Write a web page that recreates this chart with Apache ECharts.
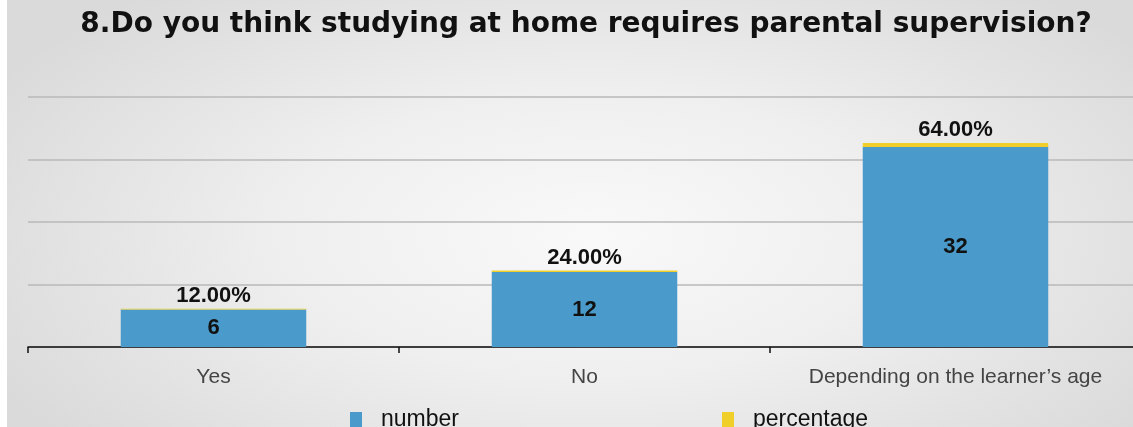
<!DOCTYPE html>
<html>
<head>
<meta charset="utf-8">
<script src="https://cdn.jsdelivr.net/npm/echarts@6/dist/echarts.min.js"></script>
<style>
  html, body { margin: 0; padding: 0; width: 1133px; height: 427px; overflow: hidden; background: #ffffff; }
  #wrap {
    position: absolute; left: 7px; top: 0; width: 1126px; height: 427px;
    background: radial-gradient(ellipse 60% 75% at 52% 55%, #f9f9f9 0%, #efefef 45%, #dadada 100%);
  }
  #chart { position: absolute; left: 0; top: 0; width: 1133px; height: 427px; }
</style>
</head>
<body>
<div id="wrap"></div>
<div id="chart"></div>
<script>
// Survey answers
const categories = ['Yes', 'No', 'Depending on the learner\u2019s age'];
const numberValues = [6, 12, 32];
const percentageValues = [0.12, 0.24, 0.64];
const titleText = '8.Do you think studying at home requires parental supervision?';

const chart = echarts.init(document.getElementById('chart'), null, { renderer: 'canvas' });

const labelFont = { fontFamily: 'Liberation Sans, Arial, sans-serif', fontWeight: 'bold', fontSize: 22, color: '#111' };
const legendText = { fontFamily: 'Liberation Sans, Arial, sans-serif', fontSize: 23, color: '#111', padding: [0, 0, 0, 14] };

chart.setOption({
  backgroundColor: 'transparent',
  animation: false,
  title: {
    text: titleText,
    left: 581, top: 6, textAlign: 'center',
    textStyle: { fontFamily: 'DejaVu Sans, Verdana, sans-serif', fontWeight: 'bold', fontSize: 28, color: '#111' }
  },
  legend: [
    { data: ['number'], left: 350, top: 408, padding: 0, icon: 'rect', itemWidth: 12, itemHeight: 15, textStyle: legendText },
    { data: ['percentage'], left: 722, top: 408, padding: 0, icon: 'rect', itemWidth: 12, itemHeight: 15, textStyle: legendText }
  ],
  grid: { left: 28, top: 97, width: 1113, bottom: 80, containLabel: false, outerBoundsMode: 'none' },
  xAxis: {
    type: 'category',
    data: categories,
    axisLine: { lineStyle: { color: '#111', width: 1.5 } },
    axisTick: { show: true, interval: 0, length: 6, lineStyle: { color: '#111', width: 1.5 } },
    axisLabel: { interval: 0, hideOverlap: false, fontFamily: 'Liberation Sans, Arial, sans-serif', fontSize: 21, color: '#444', margin: 20 }
  },
  yAxis: {
    type: 'value', min: 0, max: 40, interval: 10,
    axisLine: { show: false }, axisTick: { show: false }, axisLabel: { show: false },
    splitLine: { lineStyle: { color: '#b9b9b9', width: 1.5 } }
  },
  series: [
    {
      name: 'number', type: 'bar', stack: 'total', data: numberValues, barWidth: '50%',
      itemStyle: { color: '#4a9bcb' },
      label: { show: true, position: 'inside', ...labelFont }
    },
    {
      name: 'percentage', type: 'bar', stack: 'total', data: percentageValues, barWidth: '50%',
      itemStyle: { color: '#f0cf2a' },
      label: {
        show: true, position: 'top', distance: 2, ...labelFont,
        formatter: p => (p.value * 100).toFixed(2) + '%'
      }
    }
  ]
});
</script>
</body>
</html>
